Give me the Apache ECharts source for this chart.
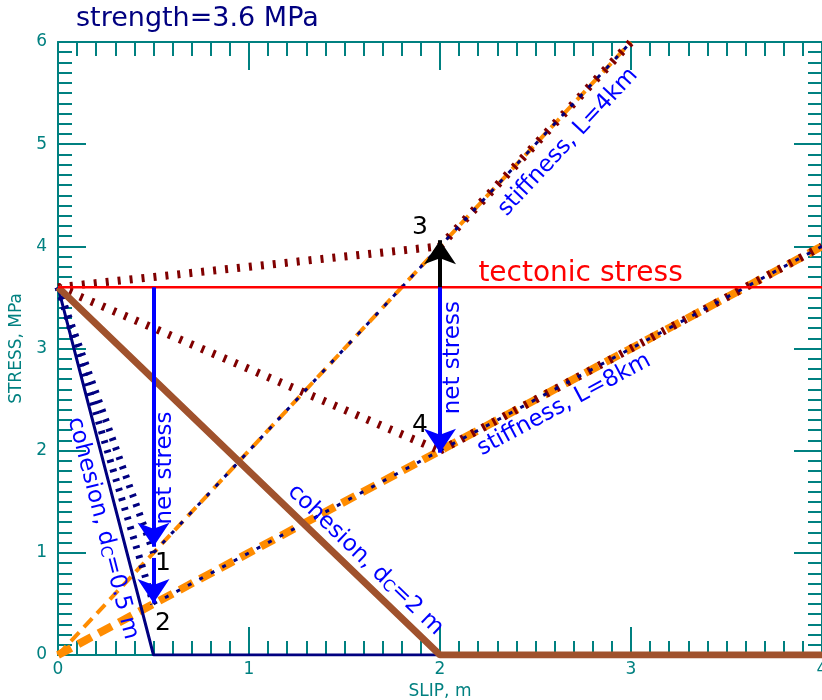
<!DOCTYPE html>
<html>
<head>
<meta charset="utf-8">
<title>strength=3.6 MPa</title>
<script src="https://cdn.jsdelivr.net/npm/echarts@6/dist/echarts.min.js"></script>
<style>
  html, body { margin: 0; padding: 0; background: #fff; }
  #main { width: 822px; height: 700px; }
</style>
</head>
<body>
<div id="main"></div>
<script>
  // axes
  var xTicks = [0, 1, 2, 3, 4];
  var yTicks = [0, 1, 2, 3, 4, 5, 6];

  // stress / slip lines
  var tectonic = [[0, 3.6], [4, 3.6]];
  var cohesion05 = [[0, 3.6], [0.5, 0], [4, 0]];
  var cohesion2 = [[0, 3.6], [2, 0], [4, 0]];
  var stiff4 = [[0, 0], [3, 6]];
  var stiff8 = [[0, 0], [4, 4]];
  var stiff4From1 = [[0.5, 1], [3, 6]];
  var stiff8From2 = [[0.5, 0.5], [4, 4]];
  var stiff4From3 = [[2, 4], [3, 6]];
  var stiff8From4 = [[2, 2], [4, 4]];
  var path1 = [[0, 3.6], [0.5, 1]];
  var path2 = [[0, 3.6], [0.5, 0.5]];
  var path3 = [[0, 3.6], [2, 4]];
  var path4 = [[0, 3.6], [2, 2]];

  // net stress arrows (end point = arrow tip)
  var blueArrows = [
    [[0.5, 3.6], [0.5, 1.06]],
    [[0.5, 0.95], [0.5, 0.51]],
    [[2, 3.6], [2, 1.98]]
  ];
  var blackArrows = [
    [[2, 3.6], [2, 4.06]]
  ];

  var TEAL = '#008080';
  var NAVY = '#000080';
  var BLUE = '#0000ff';
  var ORANGE = '#ff8c00';
  var MAROON = '#800000';
  var SIENNA = '#a0522d';
  var FONT = 'DejaVu Sans';

  var chart = echarts.init(document.getElementById('main'));

  function lineSeries(data, color, width, type, z) {
    return {
      type: 'line',
      data: data,
      showSymbol: false,
      symbol: 'none',
      silent: true,
      z: z || 2,
      lineStyle: { color: color, width: width, type: type || 'solid', cap: 'butt', opacity: 1 }
    };
  }

  function axisCommon(show) {
    return {
      axisLine: { show: true, onZero: false, lineStyle: { color: TEAL, width: 2 } },
      axisTick: { show: true, inside: true, length: 28, lineStyle: { color: TEAL, width: 2 } },
      minorTick: { show: true, splitNumber: 10, length: 14, lineStyle: { color: TEAL, width: 2 } },
      splitLine: { show: false },
      axisLabel: { show: show, color: TEAL, fontSize: 17, fontFamily: FONT }
    };
  }

  var xBottom = Object.assign(axisCommon(true), {
    type: 'value', min: xTicks[0], max: xTicks[xTicks.length - 1], interval: 1,
    position: 'bottom', name: 'SLIP, m', nameLocation: 'middle', nameGap: 21,
    nameTextStyle: { color: TEAL, fontSize: 17, fontFamily: FONT }
  });
  xBottom.axisLabel.margin = 6;
  var xTop = Object.assign(axisCommon(false), {
    type: 'value', min: xTicks[0], max: xTicks[xTicks.length - 1], interval: 1, position: 'top'
  });
  var yLeft = Object.assign(axisCommon(true), {
    type: 'value', min: yTicks[0], max: yTicks[yTicks.length - 1], interval: 1,
    position: 'left', name: 'STRESS, MPa', nameLocation: 'middle', nameGap: 32,
    nameTextStyle: { color: TEAL, fontSize: 17, fontFamily: FONT }
  });
  yLeft.axisLabel.margin = 11;
  var yRight = Object.assign(axisCommon(false), {
    type: 'value', min: yTicks[0], max: yTicks[yTicks.length - 1], interval: 1, position: 'right'
  });

  function text(x, y, str, color, size, rotate, rich) {
    var lab = {
      show: true, position: 'inside', formatter: str, color: color, opacity: 1,
      fontSize: size, fontFamily: FONT, rotate: rotate || 0,
      align: 'center', verticalAlign: 'middle'
    };
    if (rich) lab.rich = rich;
    return { value: [x, y], label: lab };
  }

  var subRich = {
    n: { fontSize: 23, lineHeight: 23, color: BLUE, fontFamily: FONT, verticalAlign: 'top' },
    s: { fontSize: 16, lineHeight: 16, color: BLUE, fontFamily: FONT, verticalAlign: 'bottom', padding: [13, 0, 0, 0] }
  };

  var labels = [
    text(2.736, 3.73, 'tectonic stress', '#ff0000', 28, 0),
    text(0.56, 1.83, 'net stress', BLUE, 23, 90),
    text(2.07, 2.91, 'net stress', BLUE, 23, 90),
    text(2.67, 5.02, 'stiffness, L=4km', BLUE, 23, 46.9),
    text(2.65, 2.45, 'stiffness, L=8km', BLUE, 23, 28.1),
    text(1.61, 0.93, '{n|cohesion, d}{s|C}{n|=2 m}', BLUE, 23, -43.9, subRich),
    text(0.235, 1.24, '{n|cohesion, d}{s|C}{n|=0.5 m}', BLUE, 23, -75.5, subRich),
    text(0.55, 0.9, '1', '#000', 25, 0),
    text(0.55, 0.31, '2', '#000', 25, 0),
    text(1.895, 4.18, '3', '#000', 25, 0),
    text(1.895, 2.25, '4', '#000', 25, 0)
  ];

  function arrows(list, color) {
    return {
      type: 'lines',
      coordinateSystem: 'cartesian2d',
      silent: true,
      z: 6,
      symbol: ['none', 'arrow'],
      symbolSize: 24,
      lineStyle: { color: color, width: 4, opacity: 1, curveness: 0 },
      data: list.map(function (c) { return { coords: c }; })
    };
  }

  var option = {
    animation: false,
    backgroundColor: '#fff',
    textStyle: { fontFamily: FONT },
    title: {
      text: 'strength=3.6 MPa', left: 71, top: 0,
      textStyle: { color: NAVY, fontSize: 27, fontWeight: 'normal', fontFamily: FONT }
    },
    grid: { left: 58, right: 0, top: 42, bottom: 45, outerBoundsMode: 'none', containLabel: false },
    xAxis: [xBottom, xTop],
    yAxis: [yLeft, yRight],
    series: [
      lineSeries(stiff4, ORANGE, 4, [12, 7], 2),
      lineSeries(stiff8, ORANGE, 8, [15, 8], 2),
      lineSeries(path3, MAROON, 8, [3, 9], 3),
      lineSeries(path4, MAROON, 8, [3, 9], 3),
      lineSeries(stiff4From3, MAROON, 8, [3, 9], 3),
      lineSeries(stiff8From4, MAROON, 8, [3, 9], 3),
      lineSeries(path1, NAVY, 7, [3, 7], 3),
      lineSeries(path2, NAVY, 7, [3, 7], 3),
      lineSeries(stiff4From1, NAVY, 3, [4, 9], 4),
      lineSeries(stiff8From2, NAVY, 3, [4, 9], 4),
      lineSeries(cohesion05, NAVY, 3, 'solid', 4),
      lineSeries(cohesion2, SIENNA, 7, 'solid', 4),
      lineSeries(tectonic, '#ff0000', 2.5, 'solid', 5),
      arrows(blueArrows, BLUE),
      arrows(blackArrows, '#000000'),
      {
        type: 'scatter',
        symbolSize: 0,
        silent: true,
        z: 8,
        itemStyle: { opacity: 1 },
        label: { show: true },
        data: labels
      }
    ]
  };

  chart.setOption(option);
</script>
</body>
</html>
